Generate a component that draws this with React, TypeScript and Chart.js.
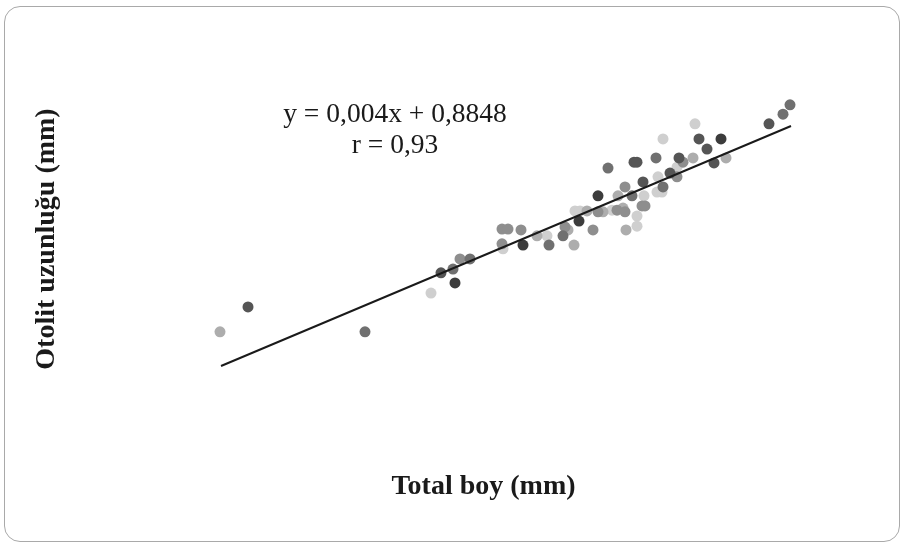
import React, { useEffect, useRef } from "react";
import { Chart, registerables } from "chart.js";

Chart.register(...registerables);

// Series grouped by marker shade (darkest -> lightest)
const G1_X = [118.5, 135.5, 149.5, 154.25, 185.0];
const G1_Y = [1.322, 1.412, 1.469, 1.529, 1.664];

const G2_X = [66.75, 115.0, 165.5, 172.25, 163.25, 164.0, 174.5, 179.5, 181.5, 183.25, 197.0];
const G2_Y = [1.265, 1.346, 1.562, 1.583, 1.609, 1.609, 1.619, 1.664, 1.64, 1.607, 1.7];

const G3_X = [96.0, 118.0, 122.25, 142.0, 145.5, 162.75, 170.5, 156.75, 168.75, 200.5, 202.25];
const G3_Y = [1.206, 1.355, 1.379, 1.412, 1.434, 1.529, 1.55, 1.595, 1.619, 1.723, 1.745];

const G4_X = [119.75, 130.25, 131.75, 135.0, 130.25, 146.0, 153.0, 154.25, 159.0, 161.0, 165.25, 166.0, 161.0, 174.0, 175.5];
const G4_Y = [1.379, 1.45, 1.45, 1.448, 1.415, 1.455, 1.448, 1.491, 1.495, 1.491, 1.505, 1.505, 1.55, 1.574, 1.609];

const G5_X = [59.75, 139.0, 146.75, 148.25, 151.5, 155.5, 160.5, 159.25, 161.25, 178.0, 186.25];
const G5_Y = [1.206, 1.434, 1.448, 1.412, 1.493, 1.491, 1.5, 1.529, 1.448, 1.619, 1.619];

const G6_X = [112.5, 130.5, 141.5, 148.5, 149.75, 157.75, 165.75, 169.0, 170.25, 169.25, 164.0, 164.0, 170.5, 178.5, 174.0];
const G6_Y = [1.298, 1.403, 1.434, 1.493, 1.493, 1.495, 1.529, 1.538, 1.538, 1.574, 1.481, 1.457, 1.664, 1.7, 1.597];

// Regression: y = 0.004x + 0.8848, r = 0.93
const SLOPE = 0.004;
const INTERCEPT = 0.8848;
const LINE_X = [60, 202.5];
const EQ_TEXT = "y = 0,004x + 0,8848";
const R_TEXT = "r = 0,93";

const X_TITLE = "Total boy (mm)";
const Y_TITLE = "Otolit uzunluğu (mm)";

const SERIF = '"Liberation Serif", "Times New Roman", serif';

const toPts = (xs: number[], ys: number[]) => xs.map((x, i) => ({ x, y: ys[i] }));

const textPlugin = {
  id: "eqText",
  afterDatasetsDraw(chart: any) {
    const { ctx } = chart;
    ctx.save();
    ctx.fillStyle = "#1a1a1a";
    ctx.font = `27.5px ${SERIF}`;
    ctx.textAlign = "center";
    ctx.textBaseline = "alphabetic";
    ctx.fillText(EQ_TEXT, 395, 122);
    ctx.fillText(R_TEXT, 395, 153);
    ctx.restore();
  },
};

export default function App() {
  const ref = useRef<HTMLCanvasElement | null>(null);

  useEffect(() => {
    if (!ref.current) return;
    const pointDs = (xs: number[], ys: number[], color: string, order: number) => ({
      type: "scatter" as const,
      data: toPts(xs, ys),
      backgroundColor: color,
      borderWidth: 0,
      pointRadius: 5.5,
      pointHoverRadius: 5.5,
      order,
    });
    const chart = new Chart(ref.current, {
      type: "scatter",
      data: {
        datasets: [
          {
            type: "line",
            data: LINE_X.map((x) => ({ x, y: SLOPE * x + INTERCEPT })),
            borderColor: "#1a1a1a",
            borderWidth: 2,
            pointRadius: 0,
            fill: false,
            order: 0,
          } as any,
          pointDs(G1_X, G1_Y, "#3c3c3c", 1),
          pointDs(G2_X, G2_Y, "#555555", 2),
          pointDs(G3_X, G3_Y, "#707070", 3),
          pointDs(G4_X, G4_Y, "#8e8e8e", 4),
          pointDs(G5_X, G5_Y, "#adadad", 5),
          pointDs(G6_X, G6_Y, "#cfcfcf", 6),
        ],
      },
      options: {
        animation: false,
        responsive: false,
        layout: { padding: { left: 0, top: 50, right: 14, bottom: 39.2 } },
        plugins: { legend: { display: false }, tooltip: { enabled: false } },
        scales: {
          x: {
            type: "linear",
            min: 24.75,
            max: 226.5,
            grid: { display: false, drawTicks: false },
            border: { display: false },
            ticks: { display: false },
            title: {
              display: true,
              text: X_TITLE,
              color: "#1a1a1a",
              font: { family: SERIF, size: 28, weight: "bold" },
              padding: { top: 42.2, bottom: 0 },
            },
          },
          y: {
            type: "linear",
            min: 0.97755,
            max: 1.87531,
            grid: { display: false, drawTicks: false },
            border: { display: false },
            ticks: { display: false },
            title: {
              display: true,
              text: Y_TITLE,
              color: "#1a1a1a",
              font: { family: SERIF, size: 28, weight: "bold" },
              padding: { top: 30, bottom: 16.4 },
            },
          },
        },
      },
      plugins: [textPlugin],
    });
    return () => chart.destroy();
  }, []);

  return (
    <div style={{ position: "fixed", left: 0, top: 0, width: 901, height: 543, background: "#fff", overflow: "hidden" }}>
      <div
        style={{
          position: "absolute",
          left: 4,
          top: 6,
          width: 894,
          height: 534,
          border: "1.5px solid #a9a9a9",
          borderRadius: 16,
        }}
      />
      <canvas ref={ref} width={901} height={543} style={{ position: "absolute", left: 0, top: 0 }} />
    </div>
  );
}
